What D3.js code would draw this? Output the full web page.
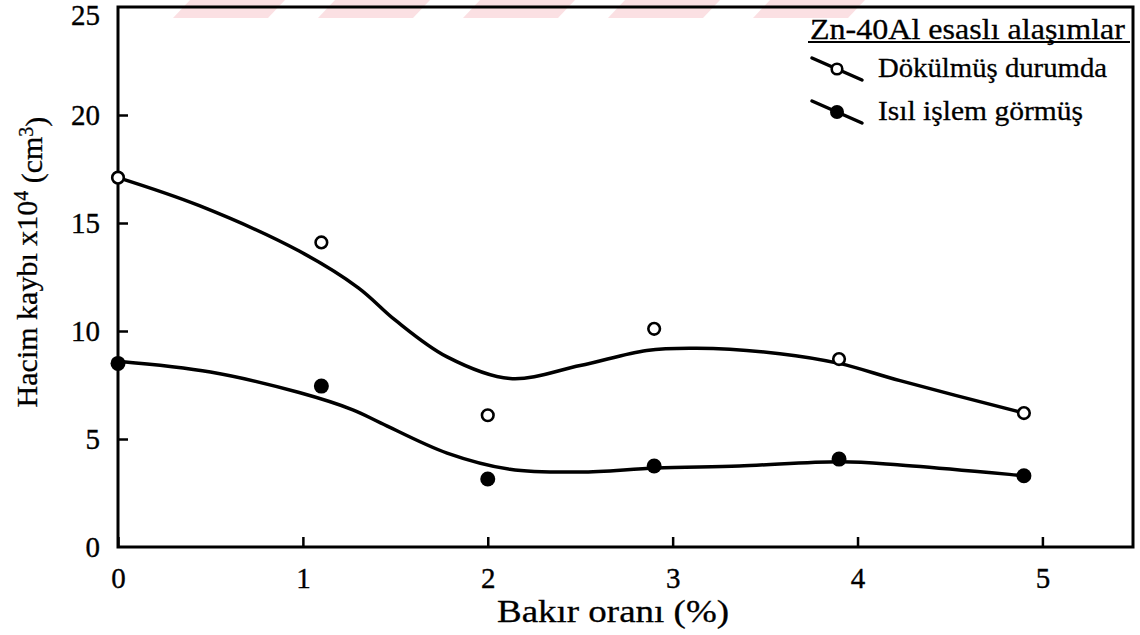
<!DOCTYPE html>
<html>
<head>
<meta charset="utf-8">
<script src="https://cdn.jsdelivr.net/npm/d3@7"></script>
<style>
  html, body { margin: 0; padding: 0; background: #fff; }
  svg text { font-family: "Liberation Serif", "Times New Roman", serif !important; fill: #000; }
</style>
</head>
<body>
<svg id="chart" width="1140" height="635"></svg>
<script>
// ---- data ----
const xTicks = [0, 1, 2, 3, 4, 5];
const yTicks = [0, 5, 10, 15, 20, 25];
const copper = [0, 1.1, 2, 2.9, 3.9, 4.9];                 // Bakır oranı (%)
const asCast = [17.1, 14.1, 6.1, 10.1, 8.7, 6.2];          // Dökülmüş durumda
const heatTreated = [8.5, 7.45, 3.15, 3.75, 4.07, 3.3];    // Isıl işlem görmüş
// hand-drawn trend curves
const castCurveX = [0, 0.44, 0.98, 1.3, 1.5, 1.78, 2.12, 2.5, 2.86, 3.13, 3.58, 3.9, 4.23, 4.9];
const castCurveY = [17.1, 15.8, 13.7, 12.0, 10.5, 8.8, 7.8, 8.4, 9.1, 9.2, 8.95, 8.5, 7.7, 6.2];
const heatCurveX = [0, 0.5, 0.98, 1.27, 1.42, 1.78, 2.12, 2.5, 2.91, 3.36, 3.91, 4.23, 4.9];
const heatCurveY = [8.6, 8.1, 7.15, 6.35, 5.75, 4.35, 3.6, 3.47, 3.66, 3.75, 3.95, 3.8, 3.3];
const legendTitle = "Zn-40Al esaslı alaşımlar";
const seriesNames = ["Dökülmüş durumda", "Isıl işlem görmüş"];
const xLabel = "Bakır oranı (%)";

// ---- layout ----
const FONT = "'Liberation Serif', 'Times New Roman', serif";
const svg = d3.select("#chart");
const L = 118, R = 1133, T = 7, B = 547;
const x = d3.scaleLinear().domain([0, 5.49]).range([L, R]);
const y = d3.scaleLinear().domain([0, 25]).range([B, T]);

// faint pink watermark remnants at the top edge
const wm = svg.append("g").attr("fill", "#fbe0e3");
for (let i = 0; i < 5; i++) {
  const x0 = 190 + i * 145;
  wm.append("path").attr("d", `M${x0},0 L${x0 + 95},0 L${x0 + 78},18 L${x0 - 17},18 Z`);
}

// frame
svg.append("rect").attr("x", L).attr("y", T).attr("width", R - L).attr("height", B - T)
  .attr("fill", "none").attr("stroke", "#000").attr("stroke-width", 3);

// axes (ticks inward)
const xAxis = d3.axisBottom(x).tickValues(xTicks).tickSize(-10).tickPadding(20).tickFormat(d3.format("d"));
const gx = svg.append("g").attr("transform", `translate(0,${B})`).call(xAxis);
gx.attr("font-family", FONT);
gx.select(".domain").remove();
gx.selectAll(".tick line").attr("stroke", "#000").attr("stroke-width", 2.5);
gx.selectAll(".tick text").attr("font-size", 29).attr("dy", "0.71em")
  .attr("stroke", "#000").attr("stroke-width", 0.35);

const yAxis = d3.axisLeft(y).tickValues(yTicks).tickSize(-10).tickPadding(18).tickFormat(d3.format("d"));
const gy = svg.append("g").attr("transform", `translate(${L},0)`).call(yAxis);
gy.attr("font-family", FONT);
gy.select(".domain").remove();
gy.selectAll(".tick line").attr("stroke", "#000").attr("stroke-width", 2.5);
gy.selectAll(".tick text").attr("font-size", 29)
  .attr("stroke", "#000").attr("stroke-width", 0.35)
  .attr("dy", d => d === 25 ? "0.62em" : "0.33em");
gy.selectAll(".tick").filter(d => d === 0 || d === 25).select("line").remove();

// curves
const line = d3.line().x(d => x(d[0])).y(d => y(d[1])).curve(d3.curveCatmullRom.alpha(0.5));
svg.append("path").datum(d3.zip(castCurveX, castCurveY)).attr("d", line)
  .attr("fill", "none").attr("stroke", "#000").attr("stroke-width", 3.5).attr("stroke-linecap", "round");
svg.append("path").datum(d3.zip(heatCurveX, heatCurveY)).attr("d", line)
  .attr("fill", "none").attr("stroke", "#000").attr("stroke-width", 3.5).attr("stroke-linecap", "round");

// points
svg.append("g").selectAll("circle").data(d3.zip(copper, asCast)).join("circle")
  .attr("cx", d => x(d[0])).attr("cy", d => y(d[1])).attr("r", 5.8)
  .attr("fill", "#fff").attr("stroke", "#000").attr("stroke-width", 2.6);
svg.append("g").selectAll("circle").data(d3.zip(copper, heatTreated)).join("circle")
  .attr("cx", d => x(d[0])).attr("cy", d => y(d[1])).attr("r", 7.5)
  .attr("fill", "#000");

// axis labels
svg.append("text").attr("x", 497).attr("y", 622).attr("font-size", 31)
  .attr("font-family", FONT)
  .attr("textLength", 232).attr("lengthAdjust", "spacingAndGlyphs")
  .attr("stroke", "#000").attr("stroke-width", 0.3).text(xLabel);

const yl = svg.append("text").attr("transform", "translate(37,262) rotate(-90)")
  .attr("font-family", FONT)
  .attr("text-anchor", "middle").attr("font-size", 30).attr("stroke", "#000").attr("stroke-width", 0.3);
yl.append("tspan").text("Hacim kaybı x10");
yl.append("tspan").attr("dy", "-0.45em").attr("font-size", 20).text("4");
yl.append("tspan").attr("dy", "0.45em").text(" (cm");
yl.append("tspan").attr("dy", "-0.45em").attr("font-size", 20).text("3");
yl.append("tspan").attr("dy", "0.45em").text(")");

// legend
const lg = svg.append("g").attr("font-family", FONT);
lg.append("text").attr("x", 810).attr("y", 39).attr("font-size", 29)
  .attr("textLength", 315).attr("lengthAdjust", "spacingAndGlyphs")
  .attr("stroke", "#000").attr("stroke-width", 0.3).text(legendTitle);
lg.append("line").attr("x1", 808).attr("x2", 1130).attr("y1", 42).attr("y2", 42)
  .attr("stroke", "#000").attr("stroke-width", 2);
const rows = [
  {name: seriesNames[0], y1: 58, y2: 80, ty: 77, tl: 229, open: true},
  {name: seriesNames[1], y1: 101, y2: 123, ty: 120, tl: 205, open: false}
];
rows.forEach(r => {
  lg.append("line").attr("x1", 812).attr("x2", 862).attr("y1", r.y1).attr("y2", r.y2)
    .attr("stroke", "#000").attr("stroke-width", 3.5).attr("stroke-linecap", "round");
  const c = lg.append("circle").attr("cx", 837).attr("cy", (r.y1 + r.y2) / 2);
  if (r.open) c.attr("r", 5.3).attr("fill", "#fff").attr("stroke", "#000").attr("stroke-width", 2.6);
  else c.attr("r", 7).attr("fill", "#000");
  lg.append("text").attr("x", 878).attr("y", r.ty).attr("font-size", 28)
    .attr("textLength", r.tl).attr("lengthAdjust", "spacingAndGlyphs")
    .attr("stroke", "#000").attr("stroke-width", 0.3).text(r.name);
});
</script>
</body>
</html>
